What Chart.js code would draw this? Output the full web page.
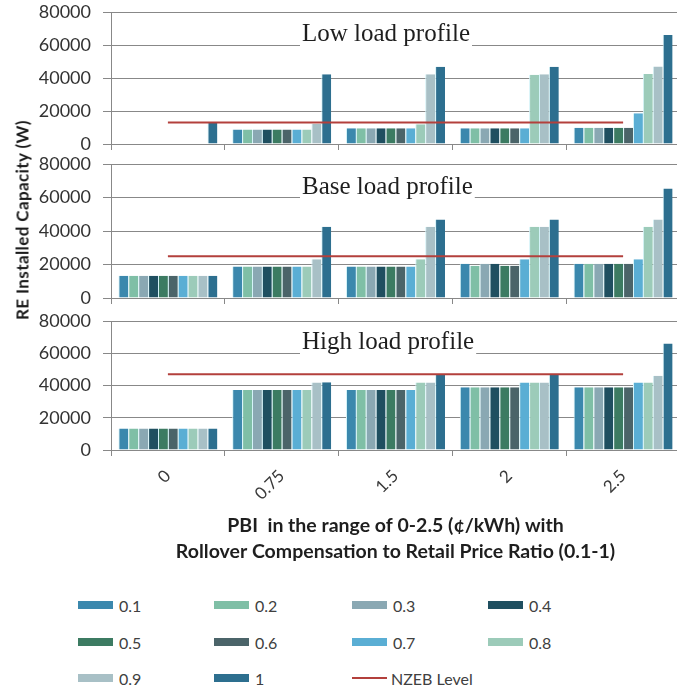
<!DOCTYPE html>
<html>
<head>
<meta charset="utf-8">
<script src="https://cdn.jsdelivr.net/npm/chart.js@4.4.1/dist/chart.umd.min.js"></script>
<style>
  html, body { margin: 0; padding: 0; background: #fff; overflow: hidden; }
  #page { position: relative; width: 677px; height: 692px; overflow: hidden; }
  #page canvas { position: absolute; left: 0; }
  #ytitle {
    position: absolute; left: 22px; top: 220px;
    transform: translate(-50%, -50%) rotate(-90deg);
    white-space: nowrap; letter-spacing: 0.4px;
    font: bold 17px Lato, sans-serif; color: #1a1a1a;
  }
  .leg { position: absolute; display: flex; align-items: center;
         font: 16px Lato, sans-serif; color: #404040; white-space: nowrap; }
  .leg span.box { display: inline-block; width: 35px; height: 8px; margin-right: 6px; }
  .leg span.ln { display: inline-block; width: 35px; height: 1.5px; margin-right: 4px; }
</style>
</head>
<body>
<div id="page">
  <canvas id="low" width="682" height="200" style="top:-20px"></canvas>
  <canvas id="base" width="682" height="200" style="top:140px"></canvas>
  <canvas id="high" width="682" height="300" style="top:290px"></canvas>
  <div id="ytitle">RE Installed Capacity (W)</div>
  <div id="legend"></div>
</div>
<script>
// PBI values (¢/kWh) on the x axis
const categories = ["0", "0.75", "1.5", "2", "2.5"];

// rollover compensation to retail price ratio, one series each
const ratios = ["0.1", "0.2", "0.3", "0.4", "0.5", "0.6", "0.7", "0.8", "0.9", "1"];
const ratioColors = ["#3b88ad", "#7fbfa6", "#8aa8b3", "#1f4f60", "#3c7b62",
                     "#4b6469", "#5aaed4", "#9ccbb9", "#a8c0c6", "#2d6f8f"];

// RE installed capacity (W), one row per ratio, columns follow categories
const lowLoad = [
  [0, 8800, 9600, 9600, 9800],
  [0, 8800, 9600, 9600, 9800],
  [0, 8800, 9600, 9600, 9800],
  [0, 8800, 9600, 9600, 9800],
  [0, 8800, 9600, 9600, 9800],
  [0, 8800, 9600, 9600, 9800],
  [0, 8800, 9600, 9600, 18600],
  [0, 8800, 12000, 42000, 42400],
  [0, 12100, 42300, 42300, 46900],
  [13000, 42300, 46800, 46800, 66000]
];
const baseLoad = [
  [13300, 18800, 18800, 20400, 20400],
  [13300, 18800, 18800, 19200, 20400],
  [13300, 18800, 18800, 20400, 20400],
  [13300, 18800, 18800, 20400, 20400],
  [13300, 18800, 18800, 19200, 20400],
  [13300, 18800, 18800, 19200, 20400],
  [13300, 18800, 18800, 23200, 23200],
  [13300, 18800, 23200, 42600, 42600],
  [13300, 23200, 42600, 42600, 46900],
  [13300, 42600, 46900, 46900, 65300]
];
const highLoad = [
  [13400, 37200, 37200, 38900, 38900],
  [13400, 37200, 37200, 38900, 38900],
  [13400, 37200, 37200, 38900, 38900],
  [13400, 37200, 37200, 38900, 38900],
  [13400, 37200, 37200, 38900, 38900],
  [13400, 37200, 37200, 38900, 38900],
  [13400, 37200, 37200, 41800, 41800],
  [13400, 37200, 41800, 41800, 41800],
  [13400, 41800, 41800, 41800, 46100],
  [13400, 42000, 47000, 46900, 66100]
];

// NZEB level for low, base, high load
const nzebLevel = [13000, 25000, 47000];

const panelTitles = ["Low load profile", "Base load profile", "High load profile"];

const xTitle = ["PBI  in the range of 0-2.5 (\u00a2/kWh) with",
                "Rollover Compensation to Retail Price Ratio (0.1-1)"];

const gridGrey = "#888888";

// white box with the panel name sitting on the 60000 gridline
const panelTitle = {
  id: "panelTitle",
  beforeDatasetsDraw(chart, args, opts) {
    const ctx = chart.ctx;
    const y = chart.scales.y.getPixelForValue(60000);
    ctx.save();
    ctx.font = '25px "Liberation Serif", serif';
    const w = ctx.measureText(opts.text).width;
    ctx.fillStyle = "#fff";
    ctx.fillRect(opts.x - 2, y - 27, w + 4, 30);
    ctx.fillStyle = "#1e1e1e";
    ctx.textBaseline = "alphabetic";
    ctx.fillText(opts.text, opts.x, y - 4);
    ctx.restore();
  }
};

function makePanel(id, rows, level, title, pad, bottomPanel) {

  const datasets = rows.map((vals, i) => ({
    type: "bar",
    label: ratios[i],
    data: vals,
    backgroundColor: ratioColors[i],
    borderColor: "#d4f3f8",
    borderWidth: { left: 1, right: 0, top: 0, bottom: 0 },
    borderSkipped: false,
    barPercentage: 1.0,
    categoryPercentage: 0.87,
    order: 1
  }));

  datasets.push({
    type: "line",
    label: "NZEB Level",
    data: categories.map(() => level),
    borderColor: "#b3403c",
    borderWidth: 2,
    pointRadius: 0,
    fill: false,
    order: 0
  });

  new Chart(document.getElementById(id), {
    data: { labels: categories, datasets: datasets },
    plugins: [panelTitle],
    options: {
      responsive: false,
      animation: false,
      layout: { padding: { left: 0, right: 2, top: pad[0], bottom: pad[1] } },
      plugins: {
        legend: { display: false },
        tooltip: { enabled: false },
        panelTitle: { text: title, x: 302 }
      },
      scales: {
        x: {
          afterFit: s => { s.height = bottomPanel ? 140 : 6; },
          grid: {
            display: true,
            drawOnChartArea: false,
            drawTicks: true,
            tickLength: 6,
            color: gridGrey,
            offset: true
          },
          border: { color: gridGrey },
          ticks: {
            display: bottomPanel,
            minRotation: 45,
            maxRotation: 45,
            padding: 10,
            color: "#3a3a3a",
            font: { family: "Lato", size: 17 }
          },
          title: {
            display: bottomPanel,
            text: xTitle,
            color: "#1e1e1e",
            font: { family: "Lato", size: 19.5, weight: "bold", lineHeight: 1.33 },
            padding: { top: 0, bottom: 25 }
          }
        },
        y: {
          min: 0,
          max: 80000,
          afterFit: s => { s.width = 111; },
          ticks: {
            stepSize: 20000,
            padding: 12,
            color: "#333333",
            font: { family: "Lato", size: 18 },
            callback: v => String(v)
          },
          grid: { color: gridGrey, tickLength: 8, drawTicks: true },
          border: { color: gridGrey }
        }
      }
    }
  });
}

makePanel("low", lowLoad, nzebLevel[0], panelTitles[0], [32, 30], false);
makePanel("base", baseLoad, nzebLevel[1], panelTitles[1], [24, 36], false);
makePanel("high", highLoad, nzebLevel[2], panelTitles[2], [31, 0], true);

// legend: 4 columns, 3 rows
const legend = document.getElementById("legend");
const legendItems = ratios.map((r, i) => ({ text: r, color: ratioColors[i], line: false }));
legendItems.push({ text: "NZEB Level", color: "#b3403c", line: true });
const colX = [78, 214, 352, 488];
const rowY = [605, 642, 678];
legendItems.forEach((it, i) => {
  const d = document.createElement("div");
  d.className = "leg";
  d.style.left = colX[i % 4] + "px";
  d.style.top = (rowY[Math.floor(i / 4)] - 10) + "px";
  d.style.height = "20px";
  const s = document.createElement("span");
  s.className = it.line ? "ln" : "box";
  s.style.background = it.color;
  d.appendChild(s);
  d.appendChild(document.createTextNode(it.text));
  legend.appendChild(d);
});
</script>
</body>
</html>
